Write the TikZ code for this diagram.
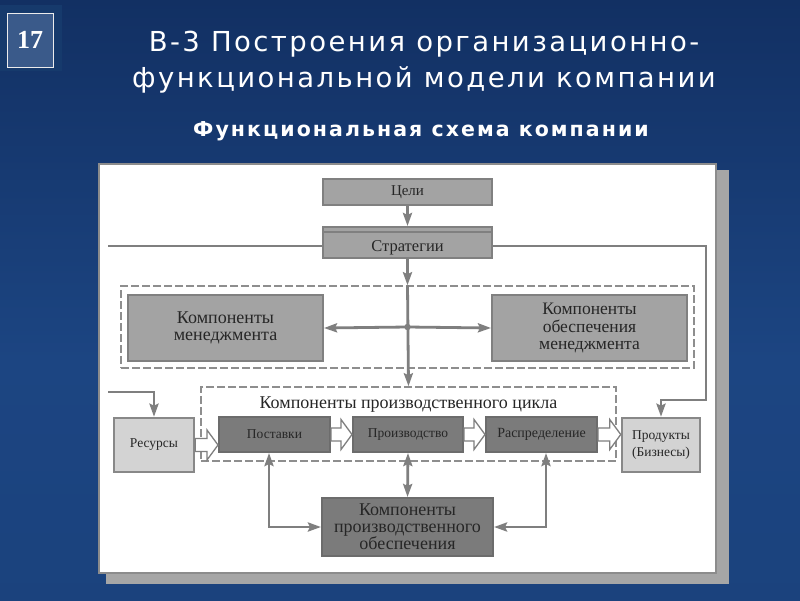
\documentclass[tikz,border=0pt]{standalone}
\usepackage{fontspec}
\setmainfont{Liberation Serif}
\newfontfamily\titlefont[LetterSpace=8.8]{DejaVu Sans}
\newfontfamily\subtitlefont[LetterSpace=10]{DejaVu Sans Bold}
\usetikzlibrary{arrows.meta,calc}
\definecolor{bgtop}{HTML}{0A1C38}
\definecolor{bgtopb}{HTML}{123063}
\definecolor{bgmid}{HTML}{1C4582}
\definecolor{bgmidb}{HTML}{1A4079}
\definecolor{bgbot}{HTML}{0F2A55}
\definecolor{numfill}{HTML}{3A5A8A}
\definecolor{numback}{HTML}{163A6C}
\definecolor{linegray}{HTML}{7F7F7F}
\definecolor{midfill}{HTML}{A3A3A3}
\definecolor{midline}{HTML}{808080}
\definecolor{darkfill}{HTML}{7B7B7B}
\definecolor{darkline}{HTML}{6C6C6C}
\definecolor{lightfill}{HTML}{D3D3D3}
\definecolor{lightline}{HTML}{888888}
\definecolor{txtdark}{HTML}{262626}
\definecolor{dashgray}{HTML}{8E8E8E}
\definecolor{panelline}{HTML}{8C8C8C}
\definecolor{shadowgray}{HTML}{A6A6A6}
\pgfdeclareverticalshading{bgshade}{100bp}{color(0bp)=(bgbot); color(8bp)=(bgmidb); color(45bp)=(bgmid); color(75bp)=(bgtopb); color(100bp)=(bgtop)}
\tikzset{
  basebox/.style={rectangle, inner sep=0pt, align=center, text=txtdark, line width=2pt},
  midbox/.style={basebox, fill=midfill, draw=midline},
  darkbox/.style={basebox, fill=darkfill, draw=darkline, text=txtdark},
  lightbox/.style={basebox, fill=lightfill, draw=lightline, line width=2.5pt},
  dashbox/.style={rectangle, draw=dashgray, line width=1.5pt, dash pattern=on 8pt off 3pt},
  conn/.style={draw=linegray, line width=2.8pt},
  arr/.style={conn, -{Stealth[length=13pt,width=9pt,inset=2pt]}},
  biarr/.style={conn, {Stealth[length=13pt,width=9pt,inset=2pt]}-{Stealth[length=13pt,width=9pt,inset=2pt]}},
  fatarr/.style={draw=linegray, fill=white, line width=1.3pt, line join=miter},
}
\newcommand\fatarrow[2]{%
  \draw[fatarr] let \p1=(#1), \p2=(#2) in
   (\x1,\y1+6.5pt) -- (\x2-11pt,\y1+6.5pt) -- (\x2-11pt,\y1+15pt) -- (\x2,\y1)
   -- (\x2-11pt,\y1-15pt) -- (\x2-11pt,\y1-6.5pt) -- (\x1,\y1-6.5pt) -- cycle;}
\begin{document}
\begin{tikzpicture}[x=1pt,y=-1pt]
\useasboundingbox (0,0) rectangle (800,600);
\shade[shading=bgshade] (0,0) rectangle (800,600);
% number badge
\fill[numback] (0,5) rectangle (62,71);
\node[rectangle, draw=white!85!gray, line width=1pt, fill=numfill, minimum width=46, minimum height=54, inner sep=0pt, text=white, font=\fontsize{26}{26}\selectfont\bfseries] (num) at (30,40) {17};
% titles
\node[text=white, font=\titlefont\fontsize{27.5}{36}\selectfont, align=center, inner sep=0pt] (title) at (424,62) {В-3 Построения организационно-\\функциональной модели компании};
\node[text=white, font=\subtitlefont\fontsize{20.5}{24}\selectfont, inner sep=0pt] (subtitle) at (421,131) {Функциональная схема компании};
% panel
\fill[shadowgray] (106,170) rectangle (729,584);
\filldraw[fill=white, draw=panelline, line width=1.5pt] (99,164) rectangle (716,573);
% dashed groups
\node[dashbox, minimum width=573, minimum height=82, inner sep=0pt] (dash1) at (407.5,327) {};
\node[dashbox, minimum width=415, minimum height=74, inner sep=0pt] (dash2) at (408.5,424) {};
% boxes
\node[midbox, minimum width=169, minimum height=26, font=\fontsize{15}{16}\selectfont] (goals) at (407.5,192) {Цели};
\node[midbox, minimum width=169, minimum height=31] (strat) at (407.5,242.5) {};
\draw[midline, line width=1.2pt] (323,232) -- (492,232);
\node[inner sep=0pt, text=txtdark, font=\fontsize{16.5}{17}\selectfont] (strattext) at (407.5,248) {Стратегии};
\node[midbox, minimum width=195, minimum height=66, font=\fontsize{18}{17}\selectfont] (km) at (225.5,328) {Компоненты\\менеджмента};
\node[midbox, minimum width=195, minimum height=66, font=\fontsize{17.5}{17.5}\selectfont] (kom) at (589.5,328) {Компоненты\\обеспечения\\менеджмента};
\node[inner sep=0pt, text=txtdark, font=\fontsize{18}{18}\selectfont] (cyc) at (408.5,405) {Компоненты производственного цикла};
\node[lightbox, minimum width=80, minimum height=54, font=\fontsize{13.5}{14}\selectfont] (res) at (154,445) {Ресурсы};
\node[darkbox, minimum width=111, minimum height=35, font=\fontsize{13.5}{14}\selectfont] (post) at (274.5,434.5) {Поставки};
\node[darkbox, minimum width=110, minimum height=35, font=\fontsize{13.5}{14}\selectfont] (proizv) at (408,434.5) {Производство};
\node[darkbox, minimum width=111, minimum height=35, font=\fontsize{14}{14}\selectfont] (rasp) at (541.5,434.5) {Распределение};
\node[lightbox, minimum width=78, minimum height=54, font=\fontsize{13.5}{17}\selectfont] (prod) at (661,445) {Продукты\\(Бизнесы)};
\node[darkbox, minimum width=171, minimum height=58, font=\fontsize{18}{16.5}\selectfont] (kpo) at (407.5,527) {Компоненты\\производственного\\обеспечения};
% coordinates
\coordinate (jn) at (407.5,327);
\coordinate (lefttop) at (108,246);
\coordinate (leftmid) at (108,392);
\coordinate (rcorner) at (706,246);
\coordinate (rlow) at (706,400);
% connectors
\draw[arr] (goals.south) -- (strat.north);
\draw[arr] (strat.south) -- (dash1.north);
\draw[arr] (dash1.north) -- (dash2.north);
\draw[arr] (jn) -- (km.east);
\draw[arr] (jn) -- (kom.west);
\fill[linegray] (jn) circle (3.2);
\draw[conn] (lefttop) -- (lefttop -| strat.west);
\draw[arr] (rcorner -| strat.east) -- (rcorner) -- (rlow) -| (prod.north);
\draw[arr] (leftmid) -| (res.north);
\fatarrow{res.east}{post.west}
\fatarrow{post.east}{proizv.west}
\fatarrow{proizv.east}{rasp.west}
\fatarrow{rasp.east}{prod.west}
\draw[biarr] (proizv.south) -- (kpo.north);
\draw[biarr] ($(post.south)+(-5.5,0)$) |- (kpo.west);
\draw[biarr] ($(rasp.south)+(4.5,0)$) |- (kpo.east);
\end{tikzpicture}
\end{document}
